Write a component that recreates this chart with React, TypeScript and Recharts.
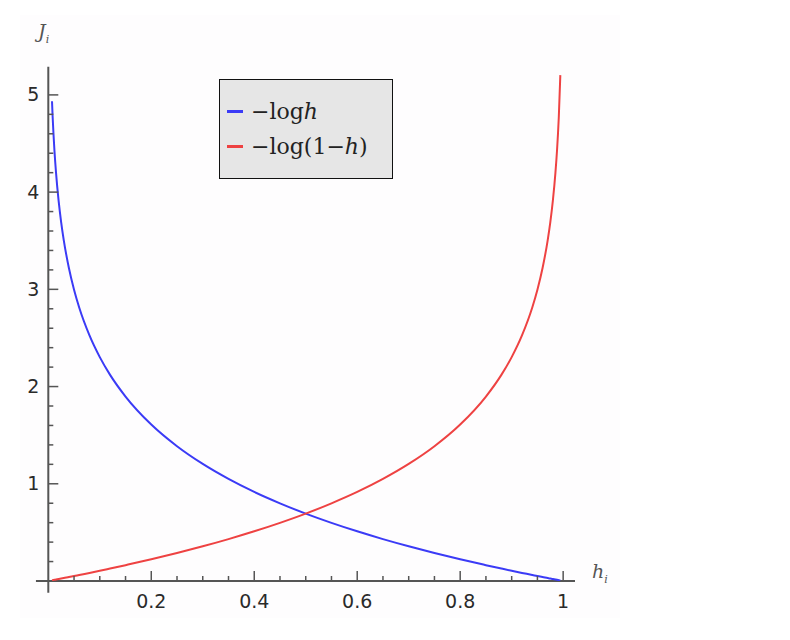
import React from "react";
import {
  LineChart,
  Line,
  XAxis,
  YAxis,
  Legend,
  ReferenceLine,
} from "recharts";

// sample points along h
const H = [
  0.0072, 0.0085, 0.01, 0.012, 0.015, 0.02, 0.025, 0.03, 0.04, 0.05, 0.06,
  0.08, 0.1, 0.12, 0.15, 0.2, 0.25, 0.3, 0.35, 0.4, 0.45, 0.5, 0.55, 0.6,
  0.65, 0.7, 0.75, 0.8, 0.85, 0.88, 0.9, 0.92, 0.94, 0.95, 0.96, 0.97, 0.975,
  0.98, 0.985, 0.988, 0.99, 0.9915, 0.9945,
];
const NEG_LOG_H = [
  4.934, 4.768, 4.605, 4.423, 4.2, 3.912, 3.689, 3.507, 3.219, 2.996, 2.813,
  2.526, 2.303, 2.12, 1.897, 1.609, 1.386, 1.204, 1.05, 0.916, 0.799, 0.693,
  0.598, 0.511, 0.431, 0.357, 0.288, 0.223, 0.163, 0.128, 0.105, 0.083, 0.062,
  0.051, 0.041, 0.03, 0.025, 0.02, 0.015, 0.012, 0.01, 0.0085, 0.0055,
];
const NEG_LOG_1MH = [
  0.0072, 0.0085, 0.01, 0.012, 0.015, 0.02, 0.025, 0.03, 0.041, 0.051, 0.062,
  0.083, 0.105, 0.128, 0.163, 0.223, 0.288, 0.357, 0.431, 0.511, 0.598, 0.693,
  0.799, 0.916, 1.05, 1.204, 1.386, 1.609, 1.897, 2.12, 2.303, 2.526, 2.813,
  2.996, 3.219, 3.507, 3.689, 3.912, 4.2, 4.423, 4.605, 4.768, 5.203,
];

const X_TICKS = [
  0.05, 0.1, 0.15, 0.2, 0.25, 0.3, 0.35, 0.4, 0.45, 0.5, 0.55, 0.6, 0.65, 0.7,
  0.75, 0.8, 0.85, 0.9, 0.95, 1,
];
const X_LABELS: Record<string, string> = {
  "0.2": "0.2",
  "0.4": "0.4",
  "0.6": "0.6",
  "0.8": "0.8",
  "1": "1",
};
const Y_TICKS = [
  0.2, 0.4, 0.6, 0.8, 1, 1.2, 1.4, 1.6, 1.8, 2, 2.2, 2.4, 2.6, 2.8, 3, 3.2,
  3.4, 3.6, 3.8, 4, 4.2, 4.4, 4.6, 4.8, 5,
];
const Y_LABELS: Record<string, string> = {
  "1": "1",
  "2": "2",
  "3": "3",
  "4": "4",
  "5": "5",
};

const SERIES = [
  { key: "negLogH", name: "−log", tail: "h", post: "", color: "#3b3bf6" },
  { key: "negLog1mH", name: "−log(1−", tail: "h", post: ")", color: "#ee4242" },
];

const data = H.map((h, i) => ({
  h,
  negLogH: NEG_LOG_H[i],
  negLog1mH: NEG_LOG_1MH[i],
}));

const AXIS = "#555";
const TICK_TEXT = "#2a2a2a";
const SANS = "'DejaVu Sans', sans-serif";
const SERIF = "'DejaVu Serif', serif";

function XTick(props: any) {
  const { x, y, payload } = props;
  const label = X_LABELS[String(payload.value)];
  return (
    <g>
      <line
        x1={x}
        x2={x}
        y1={y}
        y2={y - (label ? 10 : 5)}
        stroke={AXIS}
        strokeWidth={1.5}
      />
      {label && (
        <text
          x={x}
          y={y + 21}
          textAnchor="middle"
          dominantBaseline="middle"
          fontFamily={SANS}
          fontSize={19}
          fill={TICK_TEXT}
        >
          {label}
        </text>
      )}
    </g>
  );
}

function YTick(props: any) {
  const { x, y, payload } = props;
  const label = Y_LABELS[String(payload.value)];
  return (
    <g>
      <line
        x1={x}
        x2={x + (label ? 10 : 5)}
        y1={y}
        y2={y}
        stroke={AXIS}
        strokeWidth={1.5}
      />
      {label && (
        <text
          x={x - 9}
          y={y + 1}
          textAnchor="end"
          dominantBaseline="middle"
          fontFamily={SANS}
          fontSize={19}
          fill={TICK_TEXT}
        >
          {label}
        </text>
      )}
    </g>
  );
}

function LegendBox() {
  return (
    <div
      style={{
        width: 174,
        height: 100,
        boxSizing: "border-box",
        background: "#e6e6e6",
        border: "1.5px solid #111",
        padding: "14px 0 0 7px",
        fontFamily: SERIF,
        fontSize: 22,
        color: "#222",
        lineHeight: "35px",
        textAlign: "left",
      }}
    >
      {SERIES.map((s) => (
        <div
          key={s.key}
          style={{ display: "flex", alignItems: "center", height: 35 }}
        >
          <span
            style={{
              display: "inline-block",
              width: 16,
              height: 2.5,
              background: s.color,
              marginRight: 8,
            }}
          />
          <span>
            {s.name}
            <i>{s.tail}</i>
            {s.post}
          </span>
        </div>
      ))}
    </div>
  );
}

export default function App() {
  return (
    <div
      style={{
        position: "relative",
        width: 790,
        height: 640,
        margin: "-8px 0 0 -8px",
        background: "#fff",
      }}
    >
      <div
        style={{
          position: "absolute",
          left: 20,
          top: 15,
          width: 600,
          height: 603,
          background: "#fefdfe",
        }}
      />
      <div style={{ position: "absolute", left: 0, top: 0 }}>
        <LineChart
          width={790}
          height={640}
          data={data}
          margin={{ top: 66.7, left: 28.3, right: 215, bottom: 39 }}
        >
          <XAxis
            dataKey="h"
            type="number"
            domain={[0, 1.023]}
            ticks={X_TICKS}
            interval={0}
            height={20}
            tickSize={0}
            tickMargin={0}
            axisLine={false}
            tickLine={false}
            tick={<XTick />}
            allowDataOverflow
          />
          <YAxis
            type="number"
            domain={[0, 5.29]}
            ticks={Y_TICKS}
            interval={0}
            width={20}
            tickSize={0}
            tickMargin={0}
            axisLine={false}
            tickLine={false}
            tick={<YTick />}
            allowDataOverflow
          />
          <ReferenceLine
            segment={[
              { x: -0.024, y: 0 },
              { x: 1.023, y: 0 },
            ]}
            stroke={AXIS}
            strokeWidth={2}
            ifOverflow="visible"
          />
          <ReferenceLine
            segment={[
              { x: 0, y: -0.12 },
              { x: 0, y: 5.29 },
            ]}
            stroke={AXIS}
            strokeWidth={2}
            ifOverflow="visible"
          />
          {SERIES.map((s) => (
            <Line
              key={s.key}
              dataKey={s.key}
              type="monotone"
              stroke={s.color}
              strokeWidth={2}
              dot={false}
              isAnimationActive={false}
            />
          ))}
          <Legend
            layout="vertical"
            align="center"
            verticalAlign="middle"
            content={<LegendBox />}
            wrapperStyle={{ left: 219, top: 79, width: 174 }}
          />
        </LineChart>
      </div>
      <div
        style={{
          position: "absolute",
          left: 38,
          top: 20,
          fontFamily: SERIF,
          fontStyle: "italic",
          fontSize: 19,
          color: "#555",
        }}
      >
        J<sub style={{ fontSize: 11 }}>i</sub>
      </div>
      <div
        style={{
          position: "absolute",
          left: 592,
          top: 560,
          fontFamily: SERIF,
          fontStyle: "italic",
          fontSize: 19,
          color: "#555",
        }}
      >
        h<sub style={{ fontSize: 11 }}>i</sub>
      </div>
    </div>
  );
}
